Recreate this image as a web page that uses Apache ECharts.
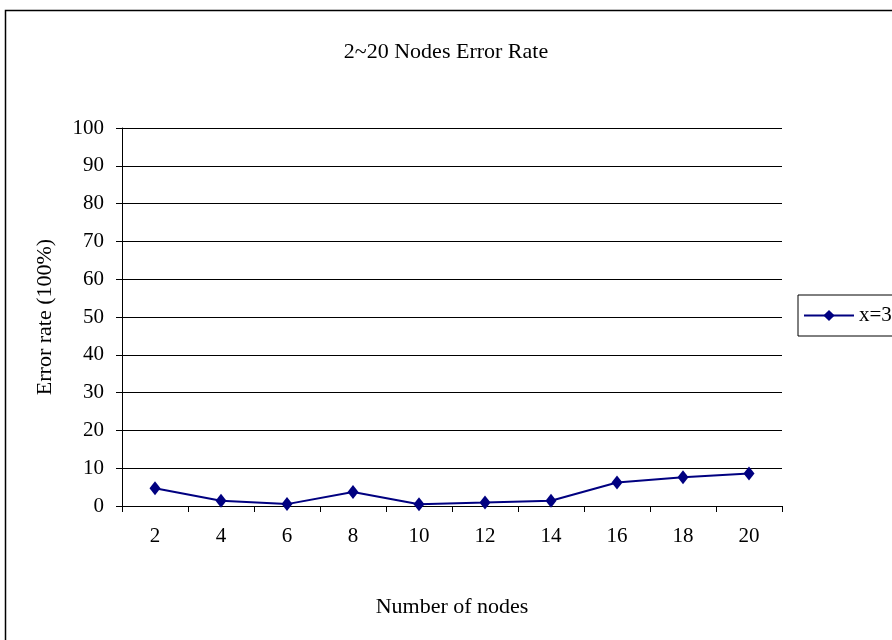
<!DOCTYPE html>
<html>
<head>
<meta charset="utf-8">
<script src="https://cdn.jsdelivr.net/npm/echarts@6/dist/echarts.min.js"></script>
<style>
  html, body { margin: 0; padding: 0; background: #fff; }
  #chart { width: 892px; height: 640px; }
</style>
</head>
<body>
<div id="chart"></div>
<script>
// Node counts on the x axis
const nodeCounts = ['2', '4', '6', '8', '10', '12', '14', '16', '18', '20'];
// Error rate (%) for x=3
const errorRateX3 = [4.7, 1.4, 0.5, 3.7, 0.45, 0.9, 1.4, 6.2, 7.6, 8.6];
const seriesName = 'x=3';

const serif = '"Liberation Serif", "DejaVu Serif", serif';
const navy = '#000080';

const chart = echarts.init(document.getElementById('chart'));
chart.setOption({
  animation: false,
  backgroundColor: '#fff',
  textStyle: { fontFamily: serif },
  graphic: [{
    type: 'rect',
    left: 3, top: 8,
    shape: { width: 900, height: 640 },
    style: { fill: 'none', stroke: '#000', lineWidth: 1.5 },
    silent: true
  }],
  title: {
    text: '2~20 Nodes Error Rate',
    left: 'center',
    top: 36,
    textStyle: { fontFamily: serif, fontSize: 22, fontWeight: 'normal', color: '#000' }
  },
  legend: {
    data: [seriesName],
    left: 798,
    top: 295,
    orient: 'vertical',
    padding: [10, 30, 10, 5],
    borderColor: '#000',
    borderWidth: 1,
    itemWidth: 50,
    itemHeight: 14,
    itemGap: 4,
    textStyle: { fontFamily: serif, fontSize: 21, color: '#000' }
  },
  grid: { left: 122, right: 110, top: 128, bottom: 134, containLabel: false },
  xAxis: {
    type: 'category',
    data: nodeCounts,
    boundaryGap: true,
    name: 'Number of nodes',
    nameLocation: 'middle',
    nameGap: 90,
    nameTextStyle: { fontFamily: serif, fontSize: 22, color: '#000' },
    axisLine: { lineStyle: { color: '#000', width: 1 } },
    axisTick: { show: true, inside: false, length: 6, alignWithLabel: false, lineStyle: { color: '#000' } },
    axisLabel: { margin: 20, fontFamily: serif, fontSize: 21, color: '#000' },
    splitLine: { show: false }
  },
  yAxis: {
    type: 'value',
    min: 0, max: 100, interval: 10,
    name: 'Error rate (100%)',
    nameLocation: 'middle',
    nameGap: 66,
    nameRotate: 90,
    nameTextStyle: { fontFamily: serif, fontSize: 22, color: '#000' },
    axisLine: { show: true, lineStyle: { color: '#000', width: 1 } },
    axisTick: { show: true, length: 6, lineStyle: { color: '#000' } },
    axisLabel: { margin: 18, fontFamily: serif, fontSize: 21, color: '#000' },
    splitLine: { show: true, lineStyle: { color: '#000', width: 1 } }
  },
  series: [{
    name: seriesName,
    type: 'line',
    data: errorRateX3,
    symbol: 'diamond',
    symbolSize: [11, 14],
    lineStyle: { color: navy, width: 2 },
    itemStyle: { color: navy }
  }]
});
</script>
</body>
</html>
